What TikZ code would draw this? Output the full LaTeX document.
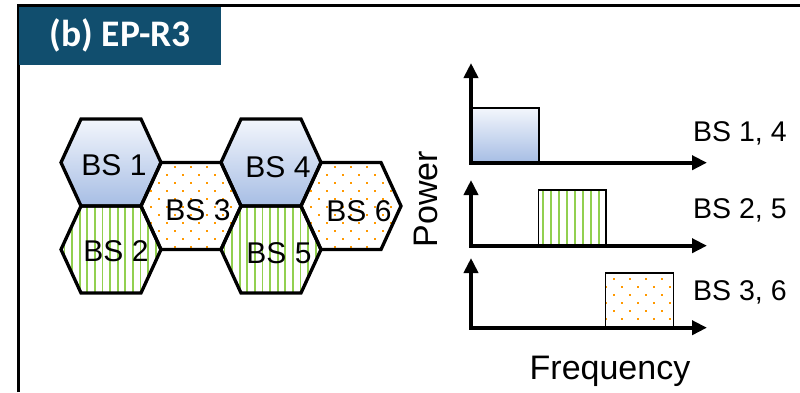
\documentclass[tikz,border=0pt]{standalone}
\usepackage{fontspec}
\setmainfont{Liberation Sans}
\newfontfamily\titlefont{Carlito}
\usetikzlibrary{arrows.meta}
\definecolor{titleblue}{RGB}{17,78,110}
\definecolor{hexbluetop}{RGB}{243,246,252}
\definecolor{hexbluebot}{RGB}{166,189,228}
\definecolor{stripegreen}{RGB}{146,208,80}
\definecolor{dotorange}{RGB}{255,153,0}
\newcommand\hexoutline{(-50,0) -- (-30,-43.5) -- (30,-43.5) -- (50,0) -- (30,43.5) -- (-30,43.5) -- cycle}
\newcommand\fillblue{\fill[top color=hexbluetop,bottom color=hexbluebot] (-55,-44) rectangle (55,44);}
\newcommand\fillgreen{\fill[white] (-55,-45) rectangle (55,45);
  \foreach \k in {-7,...,7}{\fill[stripegreen] ({\k*7.6-1.9},-45) rectangle ++(1.8,90);}}
\newcommand\fillorange{\fill[white] (-55,-45) rectangle (55,45);
  \foreach \j in {0,...,12}{\foreach \i in {-4,...,4}{
    \fill[dotorange] ({16*\i+8*mod(\j+1,2)-1},{-46.7+8*\j-1}) rectangle ++(2,2);}}}
\newcommand\hexcell[3]{%
  \begin{scope}[shift={(#1,#2)}]
    \begin{scope}
      \clip \hexoutline;
      \csname fill#3\endcsname
    \end{scope}
  \end{scope}}
\newcommand\hexborder[2]{%
  \begin{scope}[shift={(#1,#2)}]
    \draw[hexline] \hexoutline;
  \end{scope}}
\begin{document}
\begin{tikzpicture}[x=1pt,y=-1pt,
  hexline/.style={line width=3.3,line join=miter},
  hexlabel/.style={anchor=base,inner sep=0,font=\fontsize{30}{36}\selectfont},
  bslabel/.style={anchor=base west,inner sep=0,font=\fontsize{28.5}{34}\selectfont},
  axislabel/.style={anchor=base,inner sep=0,font=\fontsize{34}{40}\selectfont},
  axis/.style={line width=4,line join=miter,{Triangle[length=15pt,width=14pt]}-{Triangle[length=15pt,width=14pt]}},
  bandbox/.style={line width=1.5}]
\useasboundingbox (0,0) rectangle (800,392);
\fill[white] (0,0) rectangle (800,392);
% frame
\draw[line width=3] (18.7,392) -- (18.7,5.5) -- (800,5.5);
\fill[titleblue] (19,7) rectangle (221,65);
\node[anchor=base,inner sep=0,text=white,font=\titlefont\bfseries\fontsize{37.5}{44}\selectfont] (title) at (120.4,46) {(b) EP-R3};
% hexagons
\hexcell{111}{162.5}{blue}
\hexcell{111}{249.5}{green}
\hexcell{191}{206}{orange}
\hexcell{271}{162.5}{blue}
\hexcell{271}{249.5}{green}
\hexcell{351}{206}{orange}
\hexborder{111}{162.5}
\hexborder{111}{249.5}
\hexborder{191}{206}
\hexborder{271}{162.5}
\hexborder{271}{249.5}
\hexborder{351}{206}
\node[hexlabel] (bs1) at (114,175) {BS 1};
\node[hexlabel] (bs2) at (116,261.7) {BS 2};
\node[hexlabel] (bs3) at (198,220.7) {BS 3};
\node[hexlabel] (bs4) at (278,177.5) {BS 4};
\node[hexlabel] (bs5) at (279,263) {BS 5};
\node[hexlabel] (bs6) at (359,221.7) {BS 6};
% band boxes
\fill[top color=hexbluetop,bottom color=hexbluebot] (472.7,108) rectangle (539,162.7);
\draw[bandbox] (472.7,162.7) -- (472.7,108) -- (539,108) -- (539,162.7);
\begin{scope}
  \clip (538.3,190) rectangle (606,245.7);
  \fill[white] (538.3,190) rectangle (606,245.7);
  \foreach \k in {0,...,7}{\fill[stripegreen] ({542.4+\k*7.95},188) rectangle ++(1.8,60);}
\end{scope}
\draw[bandbox] (538.3,245.7) -- (538.3,190) -- (606,190) -- (606,245.7);
\begin{scope}
  \clip (605.7,273) rectangle (673.3,327.7);
  \fill[white] (605.7,273) rectangle (673.3,327.7);
  \foreach \j in {0,...,7}{\foreach \i in {-1,...,4}{
    \fill[dotorange] ({614.3+16*\i+8*mod(\j,2)-1},{279+8*\j-1}) rectangle ++(2,2);}}
\end{scope}
\draw[bandbox] (605.7,327.7) -- (605.7,273) -- (673.3,273) -- (673.3,327.7);
% axes
\coordinate (y1) at (471,63);   \coordinate (o1) at (471,162.7); \coordinate (x1) at (707,162.7);
\coordinate (y2) at (471,180);  \coordinate (o2) at (471,245.7); \coordinate (x2) at (707,245.7);
\coordinate (y3) at (471,258);  \coordinate (o3) at (471,327.7); \coordinate (x3) at (707,327.7);
\draw[axis] (y1) -- (o1) -- (x1);
\draw[axis] (y2) -- (o2) -- (x2);
\draw[axis] (y3) -- (o3) -- (x3);
\node[bslabel] (l14) at (693,141.7) {BS 1, 4};
\node[bslabel] (l25) at (693,218) {BS 2, 5};
\node[bslabel] (l36) at (693,300) {BS 3, 6};
\node[axislabel] (freq) at (610,379.5) {Frequency};
\node[axislabel,rotate=90] (power) at (437,199) {Power};
\end{tikzpicture}
\end{document}
